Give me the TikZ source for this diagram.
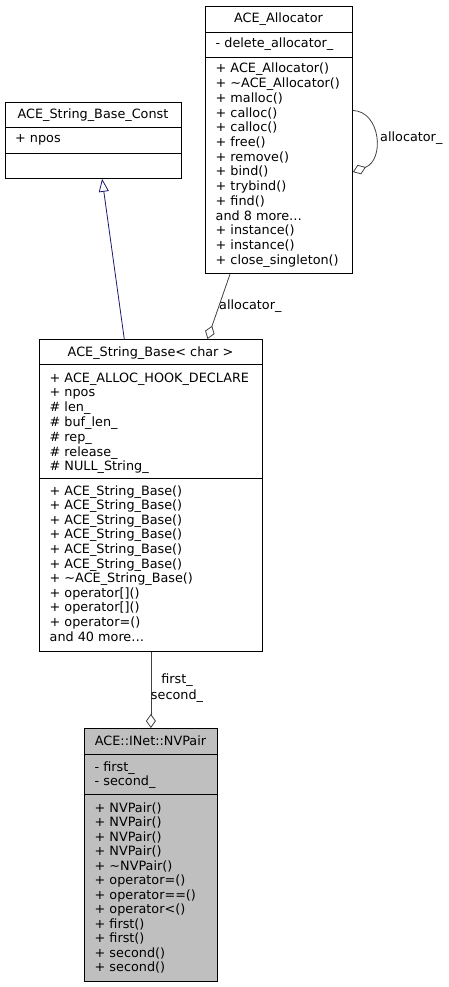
\documentclass[tikz,border=0pt]{standalone}
\usepackage{fontspec}
\setmainfont{DejaVu Sans}
\usetikzlibrary{arrows.meta,calc}
\definecolor{inhnavy}{HTML}{191970}
\definecolor{nvgray}{HTML}{BFBFBF}
\tikzset{
	classbox/.style={draw=black, line width=0.8pt, inner sep=0pt, anchor=north west},
	cname/.style={anchor=base, inner sep=0pt, font=\fontsize{12.8}{14.7}\selectfont},
	member/.style={anchor=base west, inner sep=0pt, font=\fontsize{12.8}{14.7}\selectfont},
	elabel/.style={inner sep=0pt, align=center, font=\fontsize{12.8}{16}\selectfont},
	uses/.style={draw=black!75, line width=0.8pt, {Diamond[open,fill=white,length=14pt,width=10pt]}-},
	inherits/.style={draw=inhnavy, line width=0.8pt, -{Triangle[open,fill=white,length=13pt,width=10pt]}}
}
\begin{document}
\begin{tikzpicture}[x=1pt, y=-1pt]
	\useasboundingbox (0,0) rectangle (448,987);
	% boxes
	\node[classbox, minimum width=147pt, minimum height=267pt] (alloc) at (205,6) {};
	\node[classbox, minimum width=176pt, minimum height=76pt] (sbconst) at (5,102) {};
	\node[classbox, minimum width=223pt, minimum height=312pt] (sbase) at (39,339) {};
	\node[classbox, fill=nvgray, minimum width=133pt, minimum height=253pt] (nvpair) at (84,728) {};
	\draw (alloc.west |- 0,32) -- (alloc.east |- 0,32) (alloc.west |- 0,57) -- (alloc.east |- 0,57);
	\draw (sbconst.west |- 0,127) -- (sbconst.east |- 0,127) (sbconst.west |- 0,153) -- (sbconst.east |- 0,153);
	\draw (sbase.west |- 0,364) -- (sbase.east |- 0,364) (sbase.west |- 0,478) -- (sbase.east |- 0,478);
	\draw (nvpair.west |- 0,754) -- (nvpair.east |- 0,754) (nvpair.west |- 0,794) -- (nvpair.east |- 0,794);
	% ACE_Allocator
	\node[cname] (alloc-t) at (278.5,23) {ACE\_Allocator};
	\node[member] (alloc-a0) at (215.5,48) {- delete\_allocator\_};
	\foreach \t [count=\i from 0] in {{+ ACE\_Allocator()},{+ \textasciitilde ACE\_Allocator()},{+ malloc()},{+ calloc()},{+ calloc()},{+ free()},{+ remove()},{+ bind()},{+ trybind()},{+ find()},{and 8 more\ldots},{+ instance()},{+ instance()},{+ close\_singleton()}}
		\node[member] (alloc-m\i) at (215.5,{73+14.7*\i}) {\t};
	% ACE_String_Base_Const
	\node[cname] (sbconst-t) at (93,119) {ACE\_String\_Base\_Const};
	\node[member] (sbconst-a0) at (15,143) {+ npos};
	% ACE_String_Base< char >
	\node[cname] (sbase-t) at (150.5,356) {ACE\_String\_Base< char >};
	\foreach \t [count=\i from 0] in {{+ ACE\_ALLOC\_HOOK\_DECLARE},{+ npos},{\# len\_},{\# buf\_len\_},{\# rep\_},{\# release\_},{\# NULL\_String\_}}
		\node[member] (sbase-a\i) at (49.5,{382+14.8*\i}) {\t};
	\foreach \t [count=\i from 0] in {{+ ACE\_String\_Base()},{+ ACE\_String\_Base()},{+ ACE\_String\_Base()},{+ ACE\_String\_Base()},{+ ACE\_String\_Base()},{+ ACE\_String\_Base()},{+ \textasciitilde ACE\_String\_Base()},{+ operator[]()},{+ operator[]()},{+ operator=()},{and 40 more\ldots}}
		\node[member] (sbase-m\i) at (49.5,{495+14.6*\i}) {\t};
	% ACE::INet::NVPair
	\node[cname] (nvpair-t) at (150.5,745) {ACE::INet::NVPair};
	\node[member] (nvpair-a0) at (94.5,771) {- first\_};
	\node[member] (nvpair-a1) at (94.5,785) {- second\_};
	\foreach \t [count=\i from 0] in {{+ NVPair()},{+ NVPair()},{+ NVPair()},{+ NVPair()},{+ \textasciitilde NVPair()},{+ operator=()},{+ operator==()},{+ operator<()},{+ first()},{+ first()},{+ second()},{+ second()}}
		\node[member] (nvpair-m\i) at (94.5,{812+14.5*\i}) {\t};
	% connectors
	\draw[inherits] ($(sbase.north west)!.381!(sbase.north east)$) -- ($(sbconst.south west)!.549!(sbconst.south east)$);
	\draw[uses] ($(sbase.north west)!.753!(sbase.north east)$) -- ($(alloc.south west)!.17!(alloc.south east)$)
		node[elabel, pos=.5, anchor=west] (alloc-l) {allocator\_};
	\draw[uses] ($(alloc.north east)!.62!(alloc.south east)$) .. controls +(32,-12) and +(28,1) .. ($(alloc.north east)!.39!(alloc.south east)$);
	\node[elabel, anchor=west] (loop-l) at (380,138) {allocator\_};
	\draw[uses] (nvpair.north) -- (sbase.south);
	\node[elabel] (pair-l) at (177,688) {first\_\\second\_};
\end{tikzpicture}
\end{document}
